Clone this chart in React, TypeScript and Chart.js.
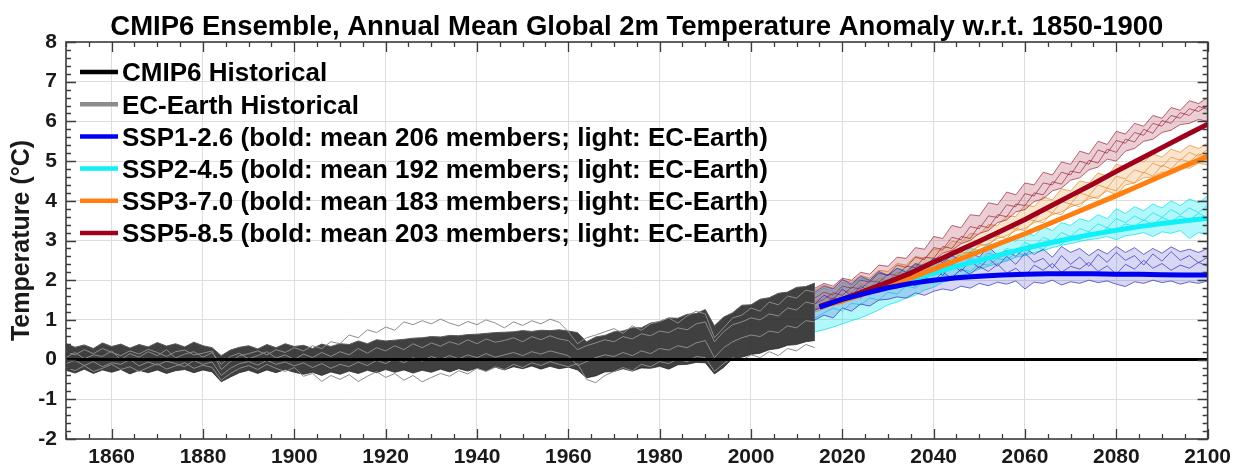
import React, { useEffect, useRef } from 'react';
import { Chart, registerables } from 'chart.js';

Chart.register(...registerables);

const FONT = "'Liberation Sans', Arial, Helvetica, sans-serif";
const TITLE = 'CMIP6 Ensemble, Annual Mean Global 2m Temperature Anomaly w.r.t. 1850-1900';
const Y_TITLE = 'Temperature (°C)';

const X_MIN = 1850;
const X_MAX = 2100;
const Y_MIN = -2;
const Y_MAX = 8;
const X_TICKS = [1860, 1880, 1900, 1920, 1940, 1960, 1980, 2000, 2020, 2040, 2060, 2080, 2100];
const Y_TICKS = [-2, -1, 0, 1, 2, 3, 4, 5, 6, 7, 8];

const LEGEND_LABELS = [
  'CMIP6 Historical',
  'EC-Earth Historical',
  'SSP1-2.6 (bold: mean 206 members; light: EC-Earth)',
  'SSP2-4.5 (bold: mean 192 members; light: EC-Earth)',
  'SSP3-7.0 (bold: mean 183 members; light: EC-Earth)',
  'SSP5-8.5 (bold: mean 203 members; light: EC-Earth)',
];
const LEGEND_COLORS = ['#000000', '#8c8c8c', '#0000f0', '#10f0f8', '#ff8010', '#a0001c'];

// Historical period: every second year 1850..2014
const HIST_YEAR_START = 1850;
const HIST_YEAR_STEP = 2;
const HIST_UPPER = [
  0.40, 0.31, 0.37, 0.28, 0.42, 0.33, 0.39, 0.29, 0.38, 0.32,
  0.43, 0.34, 0.40, 0.32, 0.44, 0.35, 0.30, 0.10, 0.24, 0.31,
  0.35, 0.27, 0.38, 0.30, 0.40, 0.33, 0.36, 0.28, 0.39, 0.33,
  0.40, 0.38, 0.47, 0.40, 0.50, 0.47, 0.49, 0.51, 0.54, 0.55,
  0.58, 0.57, 0.61, 0.60, 0.63, 0.64, 0.66, 0.68, 0.69, 0.70,
  0.73, 0.71, 0.74, 0.73, 0.75, 0.72, 0.68, 0.45, 0.57, 0.61,
  0.70, 0.72, 0.80, 0.80, 0.92, 0.96, 1.05, 1.04, 1.14, 1.16,
  1.26, 0.85, 1.07, 1.18, 1.37, 1.38, 1.52, 1.56, 1.67, 1.70,
  1.82, 1.84, 1.93,
];
const HIST_LOWER = [
  -0.27, -0.34, -0.24, -0.35, -0.26, -0.32, -0.25, -0.36, -0.27, -0.33,
  -0.26, -0.35, -0.28, -0.25, -0.33, -0.26, -0.31, -0.56, -0.44, -0.33,
  -0.27, -0.35, -0.26, -0.33, -0.25, -0.32, -0.37, -0.32, -0.40, -0.31,
  -0.37, -0.29, -0.35, -0.27, -0.33, -0.25, -0.32, -0.26, -0.34, -0.27,
  -0.32, -0.24, -0.31, -0.23, -0.29, -0.21, -0.28, -0.19, -0.26, -0.18,
  -0.23, -0.16, -0.24, -0.17, -0.23, -0.19, -0.26, -0.46, -0.41, -0.31,
  -0.30, -0.23, -0.29, -0.21, -0.22, -0.17, -0.24, -0.13, -0.12, -0.07,
  -0.08, -0.36, -0.20, 0.03, 0.06, 0.13, 0.16, 0.25, 0.28, 0.36,
  0.38, 0.45, 0.48,
];
const EC_HIST_1 = [
  0.20, 0.12, 0.25, 0.15, 0.28, 0.18, 0.10, 0.22, 0.14, 0.26,
  0.18, 0.08, 0.20, 0.24, 0.12, 0.16, 0.22, -0.25, -0.05, 0.10,
  0.15, 0.22, 0.12, 0.25, 0.18, 0.30, 0.22, 0.35, 0.28, 0.45,
  0.40, 0.62, 0.55, 0.75, 0.68, 0.82, 0.74, 0.95, 0.88, 0.98,
  0.90, 1.02, 0.92, 0.85, 0.96, 0.88, 1.00, 0.92, 0.80, 0.95,
  0.86, 0.98, 0.90, 1.02, 0.94, 0.70, 0.40, 0.55, 0.62, 0.70,
  0.78, 0.66, 0.85, 0.74, 0.90, 0.96, 1.05, 0.92, 1.10, 1.22,
  1.15, 0.55, 0.80, 1.05, 1.12, 1.30, 1.22, 1.45, 1.38, 1.60,
  1.55, 1.75, 1.70,
];
const EC_HIST_2 = [
  -0.20, -0.28, -0.15, -0.30, -0.22, -0.12, -0.25, -0.18, -0.30, -0.20,
  -0.10, -0.24, -0.16, -0.08, -0.22, -0.14, -0.20, -0.52, -0.35, -0.22,
  -0.15, -0.25, -0.12, -0.22, -0.30, -0.20, -0.42, -0.35, -0.55, -0.40,
  -0.50, -0.38, -0.55, -0.42, -0.30, -0.45, -0.35, -0.52, -0.40, -0.56,
  -0.45, -0.35, -0.42, -0.28, -0.36, -0.22, -0.30, -0.18, -0.25, -0.12,
  -0.20, -0.08, -0.15, -0.05, -0.12, -0.18, -0.10, -0.50, -0.58, -0.40,
  -0.30, -0.20, -0.28, -0.12, -0.18, -0.05, -0.10, 0.02, -0.06, 0.08,
  0.05, -0.30, -0.10, 0.05, -0.02, 0.12, 0.05, 0.20, 0.10, 0.28,
  0.22, 0.38, 0.30,
];
const EC_HIST_3 = [
  0.05, 0.18, 0.02, 0.12, 0.08, 0.22, 0.00, 0.15, 0.06, 0.20,
  0.10, 0.25, 0.04, 0.14, 0.20, 0.06, 0.18, -0.12, 0.08, 0.16,
  0.02, 0.10, 0.20, 0.04, 0.12, 0.00, 0.14, 0.05, 0.18, 0.08,
  0.20, 0.12, 0.28, 0.16, 0.30, 0.22, 0.35, 0.25, 0.40, 0.30,
  0.42, 0.34, 0.45, 0.38, 0.50, 0.40, 0.52, 0.44, 0.48, 0.55,
  0.45, 0.58, 0.50, 0.60, 0.52, 0.48, 0.25, 0.35, 0.42, 0.50,
  0.45, 0.58, 0.52, 0.65, 0.60, 0.72, 0.68, 0.80, 0.75, 0.90,
  0.95, 0.45, 0.70, 0.88, 0.95, 1.05, 1.00, 1.15, 1.10, 1.30,
  1.25, 1.45, 1.40,
];
const EC_HIST_4 = [
  -0.10, -0.02, -0.15, -0.05, -0.18, -0.08, -0.12, 0.00, -0.16, -0.06,
  -0.14, -0.04, -0.10, -0.18, -0.02, -0.12, -0.06, -0.40, -0.22, -0.10,
  -0.05, -0.14, -0.02, -0.12, -0.06, -0.16, -0.08, -0.20, -0.10, -0.22,
  -0.12, -0.18, -0.06, -0.15, -0.02, -0.10, 0.02, -0.08, 0.05, -0.04,
  0.08, 0.00, 0.10, 0.02, 0.12, 0.05, 0.15, 0.06, 0.12, 0.18,
  0.10, 0.20, 0.14, 0.22, 0.16, 0.10, -0.15, -0.05, 0.05, 0.12,
  0.08, 0.18, 0.10, 0.22, 0.15, 0.28, 0.24, 0.35, 0.30, 0.42,
  0.48, 0.05, 0.30, 0.45, 0.55, 0.62, 0.58, 0.72, 0.68, 0.85,
  0.80, 0.98, 0.95,
];

// Scenario means, every five years 2015..2100
const MEAN_YEARS = [2015, 2020, 2025, 2030, 2035, 2040, 2045, 2050, 2055, 2060, 2065, 2070, 2075, 2080, 2085, 2090, 2095, 2100];
const SSP126_MEAN = [1.32, 1.52, 1.67, 1.81, 1.92, 2.00, 2.06, 2.10, 2.13, 2.15, 2.16, 2.16, 2.16, 2.15, 2.15, 2.14, 2.13, 2.13];
const SSP245_MEAN = [1.32, 1.50, 1.68, 1.85, 2.02, 2.18, 2.35, 2.50, 2.65, 2.80, 2.93, 3.05, 3.16, 3.26, 3.35, 3.43, 3.50, 3.56];
const SSP370_MEAN = [1.32, 1.48, 1.66, 1.86, 2.06, 2.28, 2.50, 2.72, 2.95, 3.17, 3.41, 3.65, 3.89, 4.13, 4.38, 4.63, 4.88, 5.12];
const SSP585_MEAN = [1.34, 1.52, 1.73, 1.95, 2.18, 2.45, 2.72, 2.98, 3.25, 3.53, 3.83, 4.13, 4.43, 4.74, 5.04, 5.34, 5.64, 5.93];

// EC-Earth members: every second year 2014..2100
const SSP_YEAR_START = 2014;
const SSP_YEAR_STEP = 2;
const SSP126_UPPER = [
  1.70, 1.85, 1.78, 2.02, 1.90, 2.10, 2.00, 2.22, 2.12, 2.30,
  2.20, 2.42, 2.32, 2.55, 2.45, 2.62, 2.50, 2.70, 2.58, 2.85,
  2.62, 2.75, 2.60, 2.82, 2.65, 2.78, 2.58, 2.85, 2.70, 2.80,
  2.62, 2.78, 2.66, 2.85, 2.70, 2.82, 2.65, 2.80, 2.68, 2.84,
  2.72, 2.78, 2.70, 2.80,
];
const SSP126_LOWER = [
  1.00, 1.12, 1.05, 1.30, 1.22, 1.40, 1.35, 1.50, 1.52, 1.58,
  1.55, 1.68, 1.62, 1.72, 1.78, 1.74, 1.85, 1.80, 1.92, 1.86,
  1.95, 1.90, 1.98, 1.78, 1.95, 1.92, 2.00, 1.88, 1.96, 1.92,
  2.00, 1.94, 1.98, 1.90, 1.84, 1.96, 1.92, 2.00, 1.94, 1.98,
  1.90, 1.96, 1.92, 1.98,
];
const SSP126_M1 = [
  1.40, 1.62, 1.50, 1.78, 1.60, 1.85, 1.72, 1.95, 1.82, 2.05,
  1.92, 2.15, 2.00, 2.30, 2.12, 2.40, 2.22, 2.50, 2.30, 2.55,
  2.35, 2.60, 2.40, 2.68, 2.45, 2.55, 2.30, 2.62, 2.40, 2.58,
  2.35, 2.65, 2.45, 2.70, 2.50, 2.62, 2.38, 2.66, 2.48, 2.72,
  2.50, 2.62, 2.44, 2.58,
];
const SSP126_M2 = [
  1.25, 1.38, 1.55, 1.45, 1.68, 1.55, 1.75, 1.70, 1.88, 1.80,
  1.98, 1.85, 2.08, 1.98, 2.20, 2.05, 2.28, 2.15, 2.35, 2.22,
  2.40, 2.18, 2.30, 2.10, 2.38, 2.25, 2.42, 2.20, 2.35, 2.28,
  2.45, 2.22, 2.36, 2.15, 2.40, 2.28, 2.50, 2.30, 2.42, 2.25,
  2.38, 2.30, 2.45, 2.35,
];
const SSP245_UPPER = [
  1.65, 1.80, 1.72, 1.95, 1.88, 2.05, 2.00, 2.18, 2.12, 2.30,
  2.25, 2.42, 2.38, 2.55, 2.50, 2.68, 2.62, 2.80, 2.75, 2.92,
  2.88, 3.05, 2.98, 3.22, 3.12, 3.35, 3.25, 3.45, 3.38, 3.55,
  3.48, 3.65, 3.55, 3.80, 3.68, 3.85, 3.75, 3.92, 3.82, 4.00,
  3.88, 4.05, 3.95, 4.12,
];
const SSP245_LOWER = [
  0.70, 0.75, 0.82, 0.90, 0.98, 1.05, 1.15, 1.25, 1.38, 1.45,
  1.55, 1.62, 1.75, 1.82, 1.95, 2.00, 2.12, 2.18, 2.28, 2.35,
  2.42, 2.48, 2.58, 2.62, 2.70, 2.75, 2.82, 2.88, 2.92, 2.98,
  3.02, 3.05, 3.10, 3.02, 3.12, 3.15, 3.20, 3.10, 3.22, 3.18,
  3.25, 3.05, 3.20, 3.15,
];
const SSP245_M1 = [
  1.30, 1.45, 1.35, 1.58, 1.50, 1.72, 1.62, 1.85, 1.78, 1.98,
  1.92, 2.12, 2.05, 2.28, 2.20, 2.42, 2.35, 2.55, 2.48, 2.68,
  2.62, 2.80, 2.72, 2.95, 2.85, 3.08, 2.98, 3.20, 3.10, 3.30,
  3.22, 3.42, 3.32, 3.55, 3.45, 3.62, 3.50, 3.70, 3.58, 3.78,
  3.65, 3.82, 3.70, 3.88,
];
const SSP245_M2 = [
  1.05, 1.18, 1.30, 1.22, 1.42, 1.38, 1.55, 1.50, 1.70, 1.65,
  1.85, 1.80, 1.98, 1.95, 2.12, 2.08, 2.28, 2.22, 2.42, 2.38,
  2.55, 2.50, 2.70, 2.62, 2.85, 2.78, 2.98, 2.90, 3.10, 3.02,
  3.22, 3.12, 3.32, 3.25, 3.42, 3.35, 3.52, 3.40, 3.58, 3.48,
  3.62, 3.52, 3.68, 3.58,
];
const SSP370_UPPER = [
  1.75, 1.88, 1.80, 2.00, 1.95, 2.12, 2.05, 2.25, 2.22, 2.42,
  2.38, 2.60, 2.55, 2.78, 2.75, 2.98, 2.95, 3.18, 3.15, 3.40,
  3.38, 3.62, 3.60, 3.90, 3.85, 4.10, 4.02, 4.30, 4.25, 4.50,
  4.45, 4.70, 4.62, 4.92, 4.85, 5.05, 4.98, 5.18, 5.10, 5.30,
  5.22, 5.40, 5.32, 5.45,
];
const SSP370_LOWER = [
  1.20, 1.28, 1.38, 1.42, 1.55, 1.58, 1.70, 1.75, 1.88, 1.92,
  2.05, 2.12, 2.25, 2.30, 2.45, 2.50, 2.65, 2.72, 2.85, 2.92,
  3.05, 3.12, 3.25, 3.30, 3.45, 3.52, 3.65, 3.72, 3.85, 3.92,
  4.05, 4.10, 4.25, 4.15, 4.40, 4.45, 4.58, 4.60, 4.72, 4.70,
  4.85, 4.82, 4.95, 4.90,
];
const SSP370_M1 = [
  1.45, 1.62, 1.55, 1.75, 1.70, 1.90, 1.82, 2.05, 1.98, 2.20,
  2.15, 2.38, 2.30, 2.55, 2.50, 2.75, 2.68, 2.95, 2.88, 3.15,
  3.10, 3.35, 3.28, 3.55, 3.50, 3.78, 3.70, 3.98, 3.92, 4.20,
  4.12, 4.40, 4.32, 4.62, 4.55, 4.78, 4.70, 4.95, 4.85, 5.10,
  5.02, 5.22, 5.12, 5.30,
];
const SSP370_M2 = [
  1.30, 1.42, 1.58, 1.50, 1.68, 1.65, 1.82, 1.80, 1.98, 1.95,
  2.15, 2.12, 2.32, 2.30, 2.52, 2.48, 2.70, 2.68, 2.90, 2.88,
  3.10, 3.05, 3.30, 3.25, 3.50, 3.45, 3.70, 3.65, 3.92, 3.85,
  4.12, 4.05, 4.32, 4.25, 4.52, 4.45, 4.72, 4.62, 4.90, 4.80,
  5.05, 4.98, 5.18, 5.10,
];
const SSP585_UPPER = [
  1.80, 1.92, 1.85, 2.05, 2.00, 2.20, 2.15, 2.38, 2.35, 2.58,
  2.55, 2.82, 2.78, 3.10, 3.05, 3.38, 3.32, 3.65, 3.62, 3.95,
  3.90, 4.22, 4.15, 4.45, 4.40, 4.72, 4.65, 4.98, 4.92, 5.25,
  5.18, 5.50, 5.42, 5.75, 5.68, 5.95, 5.88, 6.15, 6.08, 6.35,
  6.28, 6.52, 6.45, 6.60,
];
const SSP585_LOWER = [
  1.25, 1.32, 1.42, 1.48, 1.60, 1.65, 1.78, 1.85, 1.98, 2.05,
  2.20, 2.28, 2.42, 2.50, 2.68, 2.75, 2.92, 3.00, 3.18, 3.25,
  3.45, 3.52, 3.72, 3.78, 3.98, 4.05, 4.25, 4.32, 4.52, 4.58,
  4.78, 4.85, 5.05, 5.00, 5.25, 5.32, 5.50, 5.55, 5.72, 5.78,
  5.92, 5.95, 6.05, 6.00,
];
const SSP585_M1 = [
  1.55, 1.70, 1.62, 1.85, 1.80, 2.00, 1.95, 2.18, 2.12, 2.38,
  2.32, 2.58, 2.52, 2.82, 2.78, 3.08, 3.02, 3.35, 3.30, 3.62,
  3.58, 3.90, 3.85, 4.18, 4.12, 4.45, 4.40, 4.72, 4.65, 5.00,
  4.92, 5.28, 5.20, 5.52, 5.45, 5.72, 5.65, 5.95, 5.88, 6.15,
  6.08, 6.32, 6.25, 6.40,
];
const SSP585_M2 = [
  1.40, 1.52, 1.68, 1.62, 1.82, 1.78, 1.98, 1.95, 2.15, 2.12,
  2.35, 2.32, 2.58, 2.55, 2.85, 2.80, 3.10, 3.05, 3.38, 3.32,
  3.65, 3.60, 3.92, 3.88, 4.20, 4.15, 4.48, 4.42, 4.75, 4.70,
  5.02, 4.95, 5.30, 5.22, 5.55, 5.48, 5.80, 5.70, 6.02, 5.95,
  6.22, 6.15, 6.38, 6.30,
];

const HIST_YEARS = HIST_UPPER.map((_, i) => HIST_YEAR_START + i * HIST_YEAR_STEP);
const SSP_YEARS = SSP126_UPPER.map((_, i) => SSP_YEAR_START + i * SSP_YEAR_STEP);

const pts = (years: number[], vals: number[]) => vals.map((v, i) => ({ x: years[i], y: v }));

function ln(label: string, data: any[], color: string, width: number, order: number, extra: any = {}) {
  return {
    label,
    data,
    borderColor: color,
    backgroundColor: color,
    borderWidth: width,
    pointRadius: 0,
    pointHoverRadius: 0,
    tension: 0,
    fill: false,
    order,
    borderJoinStyle: 'round',
    ...extra,
  };
}

const decorPlugin = {
  id: 'decor',
  afterDraw(chart: any) {
    const { ctx, chartArea: a, scales } = chart;
    const xs = scales.x;
    const ys = scales.y;
    ctx.save();
    ctx.strokeStyle = '#3c3c3c';
    ctx.lineWidth = 1.3;
    ctx.beginPath();
    for (let yr = X_MIN; yr <= X_MAX; yr += 5) {
      const px = Math.round(xs.getPixelForValue(yr)) + 0.5;
      const major = (yr - X_TICKS[0]) % 20 === 0;
      const len = major ? 10 : 5;
      ctx.moveTo(px, a.bottom);
      ctx.lineTo(px, a.bottom - len);
      ctx.moveTo(px, a.top);
      ctx.lineTo(px, a.top + len);
    }
    for (let k = 0; k <= (Y_MAX - Y_MIN) * 5; k++) {
      const v = Y_MIN + k * 0.2;
      const py = Math.round(ys.getPixelForValue(v)) + 0.5;
      const len = k % 5 === 0 ? 10 : 5;
      ctx.moveTo(a.left, py);
      ctx.lineTo(a.left + len, py);
      ctx.moveTo(a.right, py);
      ctx.lineTo(a.right - len, py);
    }
    ctx.stroke();
    ctx.lineWidth = 1.6;
    ctx.strokeRect(a.left, a.top, a.right - a.left, a.bottom - a.top);

    // title
    ctx.fillStyle = '#000';
    ctx.textAlign = 'center';
    ctx.textBaseline = 'alphabetic';
    ctx.font = `bold 27.5px ${FONT}`;
    ctx.fillText(TITLE, (a.left + a.right) / 2, 35);

    // y title
    ctx.save();
    ctx.translate(22, (a.top + a.bottom) / 2);
    ctx.rotate(-Math.PI / 2);
    ctx.textBaseline = 'middle';
    ctx.font = `bold 25px ${FONT}`;
    ctx.fillStyle = '#1a1a1a';
    ctx.fillText(Y_TITLE, 0, 0);
    ctx.restore();

    // legend
    ctx.font = `bold 26px ${FONT}`;
    ctx.textAlign = 'left';
    ctx.textBaseline = 'alphabetic';
    LEGEND_LABELS.forEach((lab, i) => {
      const y = 72 + i * 32.2;
      ctx.strokeStyle = LEGEND_COLORS[i];
      ctx.lineWidth = 4.5;
      ctx.lineCap = 'butt';
      ctx.beginPath();
      ctx.moveTo(80, y);
      ctx.lineTo(118, y);
      ctx.stroke();
      ctx.fillStyle = '#000';
      ctx.fillText(lab, 122, y + 9.3);
    });
    ctx.restore();
  },
};

export default function App() {
  const ref = useRef<HTMLCanvasElement>(null);
  useEffect(() => {
    if (!ref.current) return;
    const L1 = 'rgba(45,45,185,0.7)';
    const L2 = 'rgba(0,225,235,0.7)';
    const L3 = 'rgba(225,140,40,0.7)';
    const L5 = 'rgba(150,20,45,0.65)';
    const datasets: any[] = [
      ln('SSP1-2.6 mean', pts(MEAN_YEARS, SSP126_MEAN), '#0000f0', 5, 1),
      ln('SSP5-8.5 mean', pts(MEAN_YEARS, SSP585_MEAN), '#a0001c', 5, 2),
      ln('SSP3-7.0 mean', pts(MEAN_YEARS, SSP370_MEAN), '#ff8010', 5, 3),
      ln('SSP2-4.5 mean', pts(MEAN_YEARS, SSP245_MEAN), '#10f0f8', 5, 4),

      ln('SSP1 EC upper', pts(SSP_YEARS, SSP126_UPPER), L1, 1, 10, { fill: '+1', backgroundColor: 'rgba(60,60,200,0.2)' }),
      ln('SSP1 EC lower', pts(SSP_YEARS, SSP126_LOWER), L1, 1, 10),
      ln('SSP1 EC m1', pts(SSP_YEARS, SSP126_M1), L1, 1, 9),
      ln('SSP1 EC m2', pts(SSP_YEARS, SSP126_M2), L1, 1, 9),

      ln('SSP5 EC upper', pts(SSP_YEARS, SSP585_UPPER), L5, 1, 12, { fill: '+1', backgroundColor: 'rgba(160,30,55,0.22)' }),
      ln('SSP5 EC lower', pts(SSP_YEARS, SSP585_LOWER), L5, 1, 12),
      ln('SSP5 EC m1', pts(SSP_YEARS, SSP585_M1), L5, 1, 11),
      ln('SSP5 EC m2', pts(SSP_YEARS, SSP585_M2), L5, 1, 11),

      ln('SSP3 EC upper', pts(SSP_YEARS, SSP370_UPPER), L3, 1, 14, { fill: '+1', backgroundColor: 'rgba(235,150,50,0.25)' }),
      ln('SSP3 EC lower', pts(SSP_YEARS, SSP370_LOWER), L3, 1, 14),
      ln('SSP3 EC m1', pts(SSP_YEARS, SSP370_M1), L3, 1, 13),
      ln('SSP3 EC m2', pts(SSP_YEARS, SSP370_M2), L3, 1, 13),

      ln('SSP2 EC upper', pts(SSP_YEARS, SSP245_UPPER), L2, 1, 16, { fill: '+1', backgroundColor: 'rgba(0,230,240,0.3)' }),
      ln('SSP2 EC lower', pts(SSP_YEARS, SSP245_LOWER), L2, 1, 16),
      ln('SSP2 EC m1', pts(SSP_YEARS, SSP245_M1), L2, 1, 15),
      ln('SSP2 EC m2', pts(SSP_YEARS, SSP245_M2), L2, 1, 15),

      ln('zero', [{ x: X_MIN, y: 0 }, { x: X_MAX, y: 0 }], '#000000', 3, 20),

      ln('EC hist 1', pts(HIST_YEARS, EC_HIST_1), '#8c8c8c', 1, 21),
      ln('EC hist 2', pts(HIST_YEARS, EC_HIST_2), '#8c8c8c', 1, 21),
      ln('EC hist 3', pts(HIST_YEARS, EC_HIST_3), '#8c8c8c', 1, 21),
      ln('EC hist 4', pts(HIST_YEARS, EC_HIST_4), '#8c8c8c', 1, 21),

      ln('CMIP6 hist upper', pts(HIST_YEARS, HIST_UPPER), '#5a5a5a', 1, 22, { fill: '+1', backgroundColor: 'rgba(38,38,38,0.88)' }),
      ln('CMIP6 hist lower', pts(HIST_YEARS, HIST_LOWER), '#5a5a5a', 1, 22),
    ];

    const chart = new Chart(ref.current, {
      type: 'line',
      data: { datasets },
      plugins: [decorPlugin],
      options: {
        animation: false,
        responsive: false,
        maintainAspectRatio: false,
        events: [],
        layout: { padding: { top: 42, right: 26, bottom: 0, left: 0 } },
        plugins: {
          legend: { display: false },
          tooltip: { enabled: false },
          title: { display: false },
        },
        scales: {
          x: {
            type: 'linear',
            min: X_MIN,
            max: X_MAX,
            afterBuildTicks: (s: any) => {
              s.ticks = X_TICKS.map((v) => ({ value: v }));
            },
            afterFit: (s: any) => {
              s.height = 31;
            },
            ticks: {
              autoSkip: false,
              maxRotation: 0,
              padding: 6,
              color: '#1a1a1a',
              font: { family: FONT, size: 21, weight: 'bold' },
              callback: (v: any) => String(v),
            },
            grid: { color: '#dedede', lineWidth: 1, drawTicks: false },
            border: { display: false },
          },
          y: {
            type: 'linear',
            min: Y_MIN,
            max: Y_MAX,
            afterBuildTicks: (s: any) => {
              s.ticks = Y_TICKS.map((v) => ({ value: v }));
            },
            afterFit: (s: any) => {
              s.width = 66;
            },
            ticks: {
              padding: 9,
              color: '#1a1a1a',
              font: { family: FONT, size: 21, weight: 'bold' },
              callback: (v: any) => String(v),
            },
            grid: { color: '#dedede', lineWidth: 1, drawTicks: false },
            border: { display: false },
          },
        },
      },
    });
    return () => chart.destroy();
  }, []);

  return (
    <div style={{ position: 'absolute', left: 0, top: 0, width: 1237, height: 470, background: '#fff' }}>
      <canvas ref={ref} width={1237} height={470} style={{ display: 'block' }} />
    </div>
  );
}
